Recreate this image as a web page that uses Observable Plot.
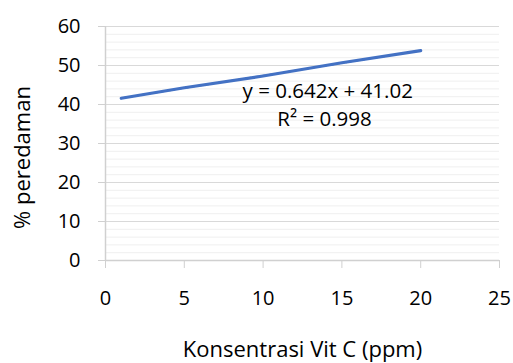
<!DOCTYPE html>
<html><head><meta charset="utf-8">
<script src="https://cdn.jsdelivr.net/npm/d3@7"></script>
<script src="https://cdn.jsdelivr.net/npm/@observablehq/plot@0.6"></script>
<style>body{margin:0;background:#fff}</style>
</head><body><div id="chart"></div>
<script>
const konsentrasi = [1, 5, 10, 15, 20];
const peredaman = [41.6, 44.3, 47.3, 50.7, 53.8];
const xTicks = [0, 5, 10, 15, 20, 25];
const yTicks = [0, 10, 20, 30, 40, 50, 60];
const yMinor = [2, 4, 6, 8, 12, 14, 16, 18, 22, 24, 26, 28, 32, 34, 36, 38, 42, 44, 46, 48, 52, 54, 56, 58];
const eqLabels = ["y = 0.642x + 41.02", "R² = 0.998"];
const eqX = [14.1, 13.9];
const eqY = [43.3, 36.2];
const xTitle = "Konsentrasi Vit C (ppm)";
const yTitle = "% peredaman";

const data = konsentrasi.map((x, i) => ({x, y: peredaman[i]}));
const eq = eqLabels.map((t, i) => ({t, x: eqX[i], y: eqY[i]}));
const font = "Open Sans, sans-serif";

const chart = Plot.plot({
  width: 513, height: 363,
  marginLeft: 105, marginRight: 14, marginTop: 26, marginBottom: 103,
  style: {fontFamily: font, fontSize: "20px", color: "#000", background: "#fff"},
  x: {domain: [0, 25]},
  y: {domain: [0, 60]},
  marks: [
    Plot.ruleY(yMinor, {stroke: "#efefef", strokeWidth: 1}),
    Plot.ruleY(yTicks, {stroke: "#d9d9d9", strokeWidth: 1.2}),
    Plot.ruleX([0], {stroke: "#d0d0d0", strokeWidth: 1.5}),
    Plot.ruleY([0], {stroke: "#d0d0d0", strokeWidth: 1.5}),
    Plot.axisY({ticks: yTicks, tickSize: 7, tickPadding: 18, stroke: "#d0d0d0", fontSize: 20, label: null}),
    Plot.axisX({ticks: xTicks, tickSize: 8, tickPadding: 22, stroke: "#d0d0d0", fontSize: 20, label: null}),
    Plot.text([yTitle], {frameAnchor: "left", textAnchor: "middle", lineAnchor: "middle", rotate: -90, dx: -83, dy: 14, fontSize: 22, fill: "#000"}),
    Plot.text([xTitle], {frameAnchor: "bottom", textAnchor: "middle", lineAnchor: "middle", dy: 89, fontSize: 22, fill: "#000"}),
    Plot.line(data, {x: "x", y: "y", stroke: "#4472C4", strokeWidth: 3.2}),
    Plot.linearRegressionY(data, {x: "x", y: "y", stroke: "#4472C4", strokeWidth: 1.5, strokeDasharray: "1.5,2", ci: 0}),
    Plot.text(eq, {x: "x", y: "y", text: "t", fontSize: 20.5, fill: "#000", textAnchor: "middle"})
  ]
});
document.getElementById("chart").appendChild(chart);
</script></body></html>
